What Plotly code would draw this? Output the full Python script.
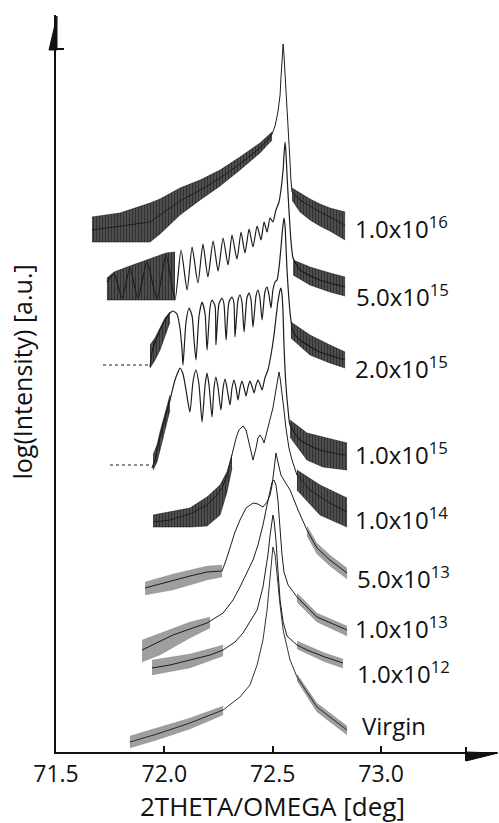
import plotly.graph_objects as go

FONT = "Open Sans"
INK = "#1c1c1c"

# Each dose: main trace (2theta in deg, stacked log intensity in a.u.),
# plus the noisy tails drawn as a hatched band between low/high envelopes.

# ---- 1.0x10^16 ----
d16_x = [71.666, 71.795, 71.934, 72.072, 72.165, 72.257, 72.349, 72.418, 72.464, 72.497, 72.511,
         72.524, 72.534, 72.538, 72.543, 72.548, 72.552, 72.557, 72.566, 72.575, 72.580, 72.584,
         72.589, 72.626, 72.718, 72.834]
d16_y = [52.2, 52.6, 53.0, 55.1, 56.2, 57.4, 58.8, 60.0, 60.9, 61.8, 62.6,
         64.0, 65.7, 67.4, 69.4, 70.8, 69.7, 67.9, 65.0, 61.2, 59.0, 57.2,
         56.0, 55.2, 54.0, 52.7]
d16_left_x = [71.666, 71.795, 71.934, 71.980, 72.072, 72.165, 72.257, 72.349, 72.441, 72.497]
d16_left_lo = [51.0, 51.0, 51.0, 51.8, 53.7, 55.2, 56.6, 58.2, 59.9, 61.2]
d16_left_hi = [53.5, 53.9, 54.9, 55.3, 56.4, 57.2, 58.2, 59.5, 60.9, 62.0]
d16_right_x = [72.589, 72.626, 72.672, 72.718, 72.764, 72.834]
d16_right_lo = [55.2, 54.0, 53.2, 52.6, 52.1, 51.2]
d16_right_hi = [56.4, 55.9, 55.3, 54.8, 54.4, 54.0]

# ---- 5.0x10^15 ----
d5e15_x = [71.735, 71.768, 71.805, 71.841, 71.878, 71.920, 71.966, 72.008, 72.049, 72.077,
           72.105, 72.128, 72.155, 72.178, 72.201, 72.225, 72.248, 72.271, 72.294, 72.312,
           72.335, 72.354, 72.372, 72.391, 72.409, 72.428, 72.446, 72.460, 72.474, 72.488,
           72.501, 72.515, 72.529, 72.538, 72.548, 72.552, 72.557, 72.561, 72.566, 72.575,
           72.584, 72.594, 72.626, 72.718, 72.834]
d5e15_y = [47.0, 47.8, 45.4, 48.4, 45.4, 49.0, 45.3, 49.7, 45.2, 50.2,
           46.2, 50.5, 46.9, 50.8, 47.5, 51.1, 48.1, 51.4, 48.7, 51.7,
           49.3, 52.0, 49.9, 52.3, 50.5, 52.6, 51.2, 53.0, 52.0, 53.4,
           53.0, 54.2, 55.0, 56.2, 58.2, 59.7, 61.0, 60.0, 57.7, 54.2,
           51.2, 49.4, 48.2, 47.2, 46.5]
d5e15_left_x = [71.735, 71.768, 71.841, 71.920, 72.008, 72.049]
d5e15_left_lo = [45.2, 45.2, 45.2, 45.2, 45.2, 45.2]
d5e15_left_hi = [47.4, 48.0, 48.6, 49.2, 49.9, 50.0]
d5e15_right_x = [72.594, 72.672, 72.764, 72.834]
d5e15_right_lo = [47.7, 46.7, 46.0, 45.6]
d5e15_right_hi = [49.2, 48.5, 47.9, 47.5]

# ---- 2.0x10^15 ----
d2e15_base_x = [71.717, 71.934]
d2e15_base_y = [38.7, 38.7]
d2e15_x = [71.934, 71.943, 71.957, 71.980, 72.003, 72.026, 72.040, 72.058, 72.072, 72.081,
           72.086, 72.100, 72.114, 72.128, 72.137, 72.146, 72.160, 72.174, 72.188, 72.197,
           72.211, 72.220, 72.234, 72.238, 72.252, 72.266, 72.275, 72.285, 72.298, 72.312,
           72.321, 72.326, 72.340, 72.349, 72.358, 72.368, 72.381, 72.391, 72.400, 72.409,
           72.423, 72.432, 72.441, 72.451, 72.464, 72.474, 72.483, 72.492, 72.501, 72.511,
           72.520, 72.529, 72.538, 72.543, 72.548, 72.552, 72.557, 72.561, 72.566, 72.575,
           72.584, 72.594, 72.626, 72.718, 72.834]
d2e15_y = [38.5, 40.0, 41.0, 42.2, 43.2, 43.9, 44.1, 43.8, 42.4, 40.4,
           38.7, 43.0, 44.4, 43.6, 41.2, 39.2, 43.6, 45.0, 43.8, 40.2,
           44.5, 45.2, 44.6, 40.7, 44.8, 45.4, 44.8, 41.2, 45.0, 45.5,
           44.9, 41.5, 45.2, 45.7, 45.0, 42.0, 45.4, 45.9, 45.2, 42.5,
           45.6, 46.2, 45.4, 43.2, 46.0, 46.5, 45.7, 44.4, 46.2, 47.0,
           47.2, 48.4, 50.4, 51.7, 52.8, 53.4, 52.6, 50.7, 48.2, 45.2,
           43.2, 42.0, 41.2, 40.0, 39.2]
d2e15_left_x = [71.934, 71.957, 71.980, 72.003, 72.026]
d2e15_left_lo = [38.4, 39.2, 40.2, 41.7, 43.0]
d2e15_left_hi = [40.7, 41.4, 42.4, 43.4, 44.0]
d2e15_right_x = [72.584, 72.672, 72.764, 72.834]
d2e15_right_lo = [41.4, 39.7, 38.9, 38.4]
d2e15_right_hi = [43.0, 41.7, 40.7, 40.0]

# ---- 1.0x10^15 ----
d1e15_base_x = [71.749, 71.943]
d1e15_base_y = [28.7, 28.7]
d1e15_x = [71.943, 71.957, 71.966, 71.980, 72.003, 72.026, 72.049, 72.063, 72.072, 72.086,
           72.100, 72.118, 72.132, 72.146, 72.160, 72.174, 72.188, 72.197, 72.206, 72.220,
           72.229, 72.238, 72.248, 72.261, 72.271, 72.280, 72.289, 72.303, 72.312, 72.321,
           72.331, 72.340, 72.349, 72.358, 72.368, 72.377, 72.386, 72.395, 72.404, 72.414,
           72.423, 72.432, 72.441, 72.451, 72.464, 72.478, 72.492, 72.506, 72.515, 72.524,
           72.534, 72.538, 72.543, 72.548, 72.552, 72.561, 72.571, 72.580, 72.626, 72.718,
           72.834]
d1e15_y = [28.4, 29.2, 30.2, 31.5, 33.4, 35.2, 37.2, 38.0, 38.4, 37.8,
           36.2, 34.0, 37.0, 38.2, 36.7, 33.0, 36.7, 37.9, 36.7, 33.5,
           36.4, 37.5, 36.4, 34.2, 36.4, 37.3, 36.4, 34.7, 36.4, 37.2,
           36.4, 35.2, 36.4, 37.1, 36.4, 35.6, 36.5, 37.1, 36.6, 35.9,
           36.7, 37.2, 36.8, 36.2, 37.4, 38.2, 39.7, 41.7, 43.4, 45.0,
           46.2, 46.4, 45.7, 43.7, 40.7, 36.7, 34.2, 32.7, 31.2, 30.2,
           29.7]
d1e15_left_x = [71.948, 71.966, 71.980, 72.003, 72.026]
d1e15_left_lo = [28.2, 29.0, 30.2, 32.2, 34.2]
d1e15_left_hi = [29.7, 30.7, 32.0, 34.0, 35.7]
d1e15_right_x = [72.580, 72.658, 72.732, 72.843]
d1e15_right_lo = [31.5, 29.2, 28.5, 28.2]
d1e15_right_hi = [33.2, 31.9, 31.5, 30.9]

# ---- 1.0x10^14 ----
d1e14_x = [71.948, 72.026, 72.118, 72.197, 72.243, 72.266, 72.289, 72.303, 72.317, 72.331,
           72.344, 72.363, 72.377, 72.391, 72.409, 72.423, 72.432, 72.441, 72.451, 72.460,
           72.474, 72.488, 72.501, 72.511, 72.520, 72.529, 72.534, 72.543, 72.552, 72.561,
           72.575, 72.589, 72.612, 72.672, 72.764, 72.843]
d1e14_y = [23.0, 23.2, 23.8, 24.7, 25.7, 26.4, 27.7, 29.0, 30.2, 31.4,
           32.2, 32.6, 32.2, 31.0, 29.2, 30.4, 31.4, 31.7, 31.4, 30.9,
           32.0, 33.2, 34.4, 35.7, 37.0, 38.0, 37.4, 36.0, 34.2, 32.4,
           30.4, 29.2, 27.7, 26.2, 24.9, 24.0]
d1e14_left_x = [71.948, 72.118, 72.197, 72.257, 72.289, 72.312]
d1e14_left_lo = [22.5, 22.5, 22.6, 23.7, 26.0, 28.4]
d1e14_left_hi = [23.7, 24.4, 25.5, 26.7, 28.0, 29.7]
d1e14_right_x = [72.612, 72.718, 72.843]
d1e14_right_lo = [26.2, 23.7, 22.5]
d1e14_right_hi = [28.2, 26.7, 25.4]

# ---- 5.0x10^13 ----
d5e13_x = [71.911, 71.980, 72.040, 72.118, 72.197, 72.266, 72.285, 72.303, 72.326, 72.349,
           72.377, 72.409, 72.432, 72.455, 72.474, 72.488, 72.497, 72.506, 72.511, 72.515,
           72.524, 72.538, 72.557, 72.580, 72.617, 72.658, 72.704, 72.764, 72.843]
d5e13_y = [16.4, 16.8, 17.2, 17.6, 18.0, 18.1, 19.2, 20.5, 22.0, 23.2,
           24.4, 24.9, 24.8, 24.5, 25.0, 25.7, 26.7, 28.2, 29.2, 29.9,
           29.0, 27.7, 27.0, 26.2, 24.2, 22.2, 20.4, 19.2, 17.9]
d5e13_left_x = [71.911, 72.040, 72.197, 72.266]
d5e13_left_lo = [15.7, 16.2, 17.2, 17.5]
d5e13_left_hi = [17.0, 17.8, 18.6, 18.7]
d5e13_right_x = [72.658, 72.704, 72.764, 72.843]
d5e13_right_lo = [21.6, 19.8, 18.6, 17.3]
d5e13_right_hi = [22.6, 20.9, 19.7, 18.4]

# ---- 1.0x10^13 ----
d1e13_x = [71.897, 71.980, 72.040, 72.118, 72.197, 72.271, 72.317, 72.349, 72.381, 72.409,
           72.432, 72.455, 72.474, 72.488, 72.497, 72.506, 72.515, 72.524, 72.534, 72.543,
           72.552, 72.571, 72.612, 72.704, 72.843]
d1e13_y = [10.2, 11.1, 11.7, 12.3, 12.9, 13.9, 15.2, 16.5, 17.9, 19.2,
           20.7, 22.7, 24.7, 26.2, 27.0, 27.2, 26.7, 25.2, 22.2, 19.7,
           18.0, 16.7, 15.5, 13.5, 12.2]
d1e13_left_x = [71.897, 71.980, 72.118, 72.211]
d1e13_left_lo = [9.0, 9.7, 11.4, 12.4]
d1e13_left_hi = [11.2, 11.9, 13.0, 13.5]
d1e13_right_x = [72.612, 72.704, 72.843]
d1e13_right_lo = [15.0, 13.0, 11.6]
d1e13_right_hi = [15.9, 13.9, 12.6]

# ---- 1.0x10^12 ----
d1e12_x = [71.943, 72.026, 72.118, 72.211, 72.271, 72.326, 72.363, 72.395, 72.428, 72.455,
           72.469, 72.478, 72.488, 72.497, 72.501, 72.506, 72.515, 72.524, 72.534, 72.548,
           72.566, 72.612, 72.658, 72.741, 72.824]
d1e12_y = [8.4, 8.7, 9.2, 9.7, 10.2, 11.0, 11.9, 13.0, 14.2, 16.5,
           18.2, 19.7, 21.7, 23.2, 23.7, 23.2, 21.2, 18.2, 15.2, 13.0,
           11.6, 10.7, 10.2, 9.5, 8.9]
d1e12_left_x = [71.943, 72.118, 72.271]
d1e12_left_lo = [7.7, 8.4, 9.6]
d1e12_left_hi = [9.2, 9.8, 10.7]
d1e12_right_x = [72.612, 72.741, 72.824]
d1e12_right_lo = [10.3, 9.0, 8.4]
d1e12_right_hi = [11.1, 9.9, 9.3]

# ---- Virgin ----
virgin_x = [71.841, 71.966, 72.118, 72.271, 72.349, 72.395, 72.428, 72.455, 72.474, 72.488,
            72.497, 72.501, 72.511, 72.520, 72.534, 72.548, 72.580, 72.612, 72.704, 72.843]
virgin_y = [1.0, 1.8, 2.9, 4.2, 5.5, 6.7, 8.7, 11.2, 14.2, 17.2,
            19.2, 20.5, 19.7, 17.5, 14.7, 12.2, 9.2, 7.5, 4.5, 2.2]
virgin_left_x = [71.841, 71.966, 72.118, 72.271]
virgin_left_lo = [0.4, 1.2, 2.3, 3.7]
virgin_left_hi = [1.6, 2.4, 3.4, 4.6]
virgin_right_x = [72.612, 72.704, 72.843]
virgin_right_lo = [7.1, 4.0, 1.7]
virgin_right_hi = [7.8, 4.9, 2.6]

# ---- dose labels ----
dose_labels = ["1.0x10<sup>16</sup>", "5.0x10<sup>15</sup>", "2.0x10<sup>15</sup>",
               "1.0x10<sup>15</sup>", "1.0x10<sup>14</sup>", "5.0x10<sup>13</sup>",
               "1.0x10<sup>13</sup>", "1.0x10<sup>12</sup>", "Virgin"]
label_x = [72.871, 72.875, 72.871, 72.871, 72.871, 72.880, 72.871, 72.880, 72.903]
label_y = [52.5, 45.7, 38.5, 29.9, 23.4, 17.5, 12.5, 8.0, 2.7]

tick_vals = [71.5, 72.0, 72.5, 73.0]
tick_text = ["71.5", "72.0", "72.5", "73.0"]

fig = go.Figure()


def add_band(x, lo, hi, heavy=True):
    if heavy:
        edge, ew, bg, fg, solid, size = "rgba(0,0,0,0.8)", 0.6, "rgba(0,0,0,0.62)", "#000", 0.6, 3
    else:
        edge, ew, bg, fg, solid, size = "rgba(0,0,0,0.25)", 0.4, "rgba(0,0,0,0.22)", "#111", 0.45, 2
    fig.add_trace(go.Scatter(x=x, y=lo, mode="lines", line=dict(width=ew, color=edge),
                             hoverinfo="skip", showlegend=False))
    fig.add_trace(go.Scatter(x=x, y=hi, mode="lines", line=dict(width=ew, color=edge),
                             fill="tonexty", fillcolor=bg,
                             fillpattern=dict(shape="|", size=size, solidity=solid,
                                              fgcolor=fg, bgcolor=bg),
                             hoverinfo="skip", showlegend=False))


def add_curve(x, y, width=1.0, shape="linear"):
    fig.add_trace(go.Scatter(x=x, y=y, mode="lines",
                             line=dict(width=width, color=INK, shape=shape, smoothing=0.6),
                             hoverinfo="skip", showlegend=False))


def add_baseline(x, y):
    fig.add_trace(go.Scatter(x=x, y=y, mode="lines",
                             line=dict(width=1.5, color="#666", dash="dot"),
                             hoverinfo="skip", showlegend=False))


add_band(d16_left_x, d16_left_lo, d16_left_hi)
add_band(d16_right_x, d16_right_lo, d16_right_hi)
add_curve(d16_x, d16_y)

add_band(d5e15_left_x, d5e15_left_lo, d5e15_left_hi)
add_band(d5e15_right_x, d5e15_right_lo, d5e15_right_hi)
add_curve(d5e15_x, d5e15_y, 1.2, "spline")

add_baseline(d2e15_base_x, d2e15_base_y)
add_band(d2e15_left_x, d2e15_left_lo, d2e15_left_hi)
add_band(d2e15_right_x, d2e15_right_lo, d2e15_right_hi)
add_curve(d2e15_x, d2e15_y, 1.2, "spline")

add_baseline(d1e15_base_x, d1e15_base_y)
add_band(d1e15_left_x, d1e15_left_lo, d1e15_left_hi)
add_band(d1e15_right_x, d1e15_right_lo, d1e15_right_hi)
add_curve(d1e15_x, d1e15_y, 1.2, "spline")

add_band(d1e14_left_x, d1e14_left_lo, d1e14_left_hi)
add_band(d1e14_right_x, d1e14_right_lo, d1e14_right_hi)
add_curve(d1e14_x, d1e14_y)

add_band(d5e13_left_x, d5e13_left_lo, d5e13_left_hi, False)
add_band(d5e13_right_x, d5e13_right_lo, d5e13_right_hi, False)
add_curve(d5e13_x, d5e13_y)

add_band(d1e13_left_x, d1e13_left_lo, d1e13_left_hi, False)
add_band(d1e13_right_x, d1e13_right_lo, d1e13_right_hi, False)
add_curve(d1e13_x, d1e13_y)

add_band(d1e12_left_x, d1e12_left_lo, d1e12_left_hi, False)
add_band(d1e12_right_x, d1e12_right_lo, d1e12_right_hi, False)
add_curve(d1e12_x, d1e12_y)

add_band(virgin_left_x, virgin_left_lo, virgin_left_hi, False)
add_band(virgin_right_x, virgin_right_lo, virgin_right_hi, False)
add_curve(virgin_x, virgin_y, 0.9)

annotations = []
for txt, lx, ly in zip(dose_labels, label_x, label_y):
    annotations.append(dict(x=lx, y=ly, xref="x", yref="y", text=txt, showarrow=False,
                            xanchor="left", yanchor="middle",
                            font=dict(family=FONT, size=24, color="#111")))

annotations.append(dict(x=0.49, y=-0.073, xref="paper", yref="paper",
                        text="2THETA/OMEGA [deg]", showarrow=False,
                        xanchor="center", yanchor="middle",
                        font=dict(family=FONT, size=26, color="#111")))
annotations.append(dict(x=-0.077, y=0.515, xref="paper", yref="paper",
                        text="log(Intensity) [a.u.]", showarrow=False, textangle=-90,
                        xanchor="center", yanchor="middle",
                        font=dict(family=FONT, size=25, color="#111")))

shapes = [
    # arrow head on the intensity axis
    dict(type="path", xref="paper", yref="paper",
         path="M 0.0023 0.9986 L -0.0159 0.9525 L 0.0023 0.9525 Z",
         fillcolor="#111", line=dict(color="#111", width=1)),
    dict(type="line", xref="paper", yref="paper", x0=0.0023, x1=0.0181, y0=0.9539, y1=0.9539,
         line=dict(color="#111", width=2)),
    # arrow head on the 2theta axis
    dict(type="path", xref="paper", yref="paper",
         path="M 0.9297 0.0 L 1.0023 -0.0014 L 0.9297 -0.0122 Z",
         fillcolor="#111", line=dict(color="#111", width=1)),
    dict(type="line", xref="paper", yref="paper", x0=0.9297, x1=0.9297, y0=-0.0122, y1=0.0068,
         line=dict(color="#111", width=2)),
]

fig.update_layout(
    width=499, height=823,
    margin=dict(l=56, r=2, t=15, b=71),
    paper_bgcolor="white", plot_bgcolor="white",
    showlegend=False,
    annotations=annotations,
    shapes=shapes,
    xaxis=dict(range=[71.5, 73.535], showgrid=False, zeroline=False,
               showline=True, linecolor="#111", linewidth=2,
               ticks="inside", ticklen=6, tickwidth=1.5, tickcolor="#111",
               tickvals=tick_vals, ticktext=tick_text, ticklabelstandoff=0,
               tickfont=dict(family=FONT, size=23, color="#111")),
    yaxis=dict(range=[0, 73.7], showgrid=False, zeroline=False,
               showline=True, linecolor="#111", linewidth=2,
               showticklabels=False, ticks=""),
)

fig.write_html("out.html")
